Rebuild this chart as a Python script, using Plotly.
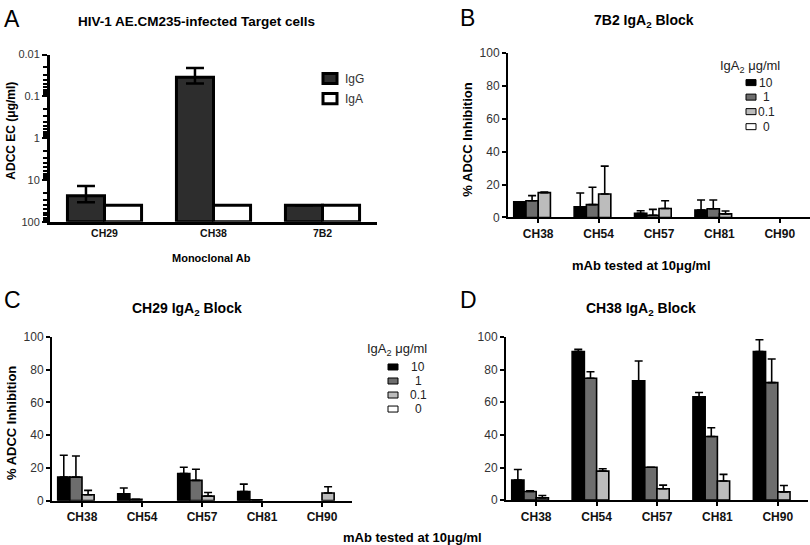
import plotly.graph_objects as go

W, H = 810, 545
FONT = "Arial, 'Liberation Sans', Helvetica, sans-serif"

# ---------------- data ----------------
# Panel A (ADCC EC, log scale, reversed)
a_categories = ["CH29", "CH38", "7B2"]
a_igg = [24, 0.035, 40]
a_igg_err = [10, 0.014, 0]
a_iga = [40, 40, 40]
a_series = ["IgG", "IgA"]
a_tickvals = [0.01, 0.1, 1, 10, 100]
a_ticktext = ["0.01", "0.1", "1", "10", "100"]
a_minor = [m * t for t in a_tickvals[:-1] for m in range(2, 10)]
a_base = 100

# Panels B-D (% ADCC inhibition)
mab = ["CH38", "CH54", "CH57", "CH81", "CH90"]
iga_levels = ["10", "1", "0.1", "0"]

b_10 = [9.6, 6.5, 2.5, 4.5, 0]
b_10_err = [0, 8.4, 1.6, 6.1, 0]
b_1 = [10.2, 7.8, 1.4, 5.3, 0]
b_1_err = [3.1, 10.6, 3.5, 5.3, 0]
b_01 = [15.1, 14.3, 5.5, 2.2, 0]
b_01_err = [0.4, 16.9, 4.7, 1.7, 0]
b_0 = [0, 0, 0, 0, 0]

c_10 = [14.4, 4.2, 16.6, 5.5, 0]
c_10_err = [13.3, 3.5, 3.8, 4.6, 0]
c_1 = [14.4, 0.8, 12.4, 0.5, 0]
c_1_err = [12.9, 0, 6.8, 0, 0]
c_01 = [3.6, 0, 2.8, 0, 4.7]
c_01_err = [2.7, 0, 2.2, 0, 3.8]
c_0 = [0, 0, 0, 0, 0]

d_10 = [12.3, 91.0, 73.2, 63.4, 91.0]
d_10_err = [6.5, 1.4, 12.1, 2.6, 7.3]
d_1 = [5.3, 74.7, 20.2, 39.0, 72.0]
d_1_err = [0.5, 4.0, 0, 5.4, 14.5]
d_01 = [1.4, 17.8, 7.0, 11.7, 5.1]
d_01_err = [1.5, 1.4, 2.2, 4.1, 3.9]
d_0 = [0, 0, 0, 0, 0]

pct_ticks = [0, 20, 40, 60, 80, 100]

# ---------------- styles ----------------
a_colors = ["#2d2d2d", "#ffffff"]
lvl_colors = ["#000000", "#6d6d6d", "#bcbcbc", "#ffffff"]

# vertical calibration of the photographed page
V_OFF, V_SCALE = 6.5, 0.973


def X(px):
    return px / W


def Y(py):
    fy = (py - V_OFF) / V_SCALE
    return (H - fy) / H


fig = go.Figure()

# Panel A bars (bars hang from 100 on a reversed log axis)
for name, vals, err, col, off in [
    (a_series[0], a_igg, a_igg_err, a_colors[0], -0.34),
    (a_series[1], a_iga, None, a_colors[1], 0.0),
]:
    fig.add_trace(go.Bar(
        x=a_categories, y=[v - a_base for v in vals], base=a_base,
        name=name, xaxis="x", yaxis="y",
        width=0.34, offset=off,
        marker=dict(color=col, line=dict(color="black", width=3)),
        error_y=(dict(type="data", array=err, symmetric=True, color="black",
                      thickness=2.5, width=9) if err else None),
        showlegend=False,
    ))

panel_data = [
    ("x2", "y2", [b_10, b_1, b_01, b_0], [b_10_err, b_1_err, b_01_err, None]),
    ("x3", "y3", [c_10, c_1, c_01, c_0], [c_10_err, c_1_err, c_01_err, None]),
    ("x4", "y4", [d_10, d_1, d_01, d_0], [d_10_err, d_1_err, d_01_err, None]),
]
for xa, ya, series, errs in panel_data:
    for lvl, vals, err, col in zip(iga_levels, series, errs, lvl_colors):
        fig.add_trace(go.Bar(
            x=mab, y=[v if v else None for v in vals], name=lvl,
            xaxis=xa, yaxis=ya,
            marker=dict(color=col, line=dict(color="black", width=1.6)),
            error_y=(dict(type="data", array=err, symmetric=False,
                          arrayminus=[0] * len(err), color="black",
                          thickness=1.6, width=4) if err else None),
            showlegend=False,
        ))

tickfont_b = dict(family=FONT, size=12, color="#111", weight="bold")
tickfont_r = dict(family=FONT, size=12, color="#333")

layout = dict(
    width=W, height=H, margin=dict(l=0, r=0, t=0, b=0),
    paper_bgcolor="white", plot_bgcolor="white",
    barmode="group", bargap=0.19, bargroupgap=0,
    font=dict(family=FONT, color="black"),
    showlegend=False,
    xaxis=dict(domain=[X(50), X(377)], anchor="y", showline=True, linewidth=3,
               linecolor="black", ticks="", showgrid=False, zeroline=False,
               tickfont=dict(family=FONT, size=10.5, color="#111", weight="bold")),
    yaxis=dict(domain=[Y(221), Y(54)], anchor="x", type="log", range=[2, -2],
               showline=True, linewidth=3, linecolor="black",
               tickmode="array", tickvals=a_tickvals, ticktext=a_ticktext,
               ticks="outside", ticklen=5, tickwidth=2, tickcolor="black",
               minor=dict(ticks="outside", ticklen=4, tickwidth=2,
                          tickcolor="black", tickmode="array",
                          tickvals=a_minor, showgrid=False),
               showgrid=False, zeroline=False,
               tickfont=dict(family=FONT, size=11, color="#333")),
)
pct_axes = {
    2: ([508, 810], [216.7, 52.3]),
    3: ([52, 352], [499.5, 336]),
    4: ([506, 808], [499, 336]),
}
for i, (xd, yd) in pct_axes.items():
    layout[f"xaxis{i}"] = dict(domain=[X(xd[0]), X(xd[1])], anchor=f"y{i}",
                               showline=True, linewidth=2, linecolor="black",
                               ticks="outside", ticklen=4, tickwidth=1.5,
                               tickcolor="black", showgrid=False, zeroline=False,
                               tickfont=tickfont_b)
    layout[f"yaxis{i}"] = dict(domain=[Y(yd[0]), Y(yd[1])], anchor=f"x{i}",
                               range=[0, 100], tickvals=pct_ticks,
                               showline=True, linewidth=2, linecolor="black",
                               ticks="outside", ticklen=4, tickwidth=1.5,
                               tickcolor="black", showgrid=False, zeroline=False,
                               tickfont=tickfont_r)
fig.update_layout(**layout)

ann = []
shapes = []


def text(x, y, s, size, bold=False, angle=0, xanchor="center", color="black"):
    ann.append(dict(x=X(x), y=Y(y), xref="paper", yref="paper", text=s,
                    showarrow=False, textangle=angle, xanchor=xanchor,
                    yanchor="middle",
                    font=dict(family=FONT, size=size, color=color,
                              weight="bold" if bold else "normal")))


# panel letters
text(2, 18, "A", 23, xanchor="left")
text(458, 17, "B", 23, xanchor="left")
text(2, 299, "C", 23, xanchor="left")
text(458, 299, "D", 23, xanchor="left")

# titles
text(196, 21, "HIV-1 AE.CM235-infected Target cells", 13.5, bold=True)
text(644, 20, "7B2 IgA<sub>2</sub> Block", 14, bold=True)
text(187, 308, "CH29 IgA<sub>2</sub> Block", 14, bold=True)
text(641, 308, "CH38 IgA<sub>2</sub> Block", 14, bold=True)

# axis titles
text(11, 130, "ADCC EC (μg/ml)", 12, bold=True, angle=-90)
text(211, 257, "Monoclonal Ab", 11, bold=True)
text(468, 139, "% ADCC Inhibition", 13, bold=True, angle=-90)
text(11, 422, "% ADCC Inhibition", 13, bold=True, angle=-90)
text(641, 265, "mAb tested at 10μg/ml", 13, bold=True)
text(412, 536, "mAb tested at 10μg/ml", 13, bold=True)

# legend A
for k, (nm, col) in enumerate(zip(a_series, a_colors)):
    yc = 78 + 20 * k
    shapes.append(dict(type="rect", xref="paper", yref="paper",
                       x0=X(323), x1=X(337), y0=Y(yc - 5), y1=Y(yc + 5),
                       fillcolor=col, line=dict(color="black", width=3)))
    text(343, yc, nm, 12, xanchor="left", color="#333")


# legends B and C
def level_legend(tx, ty, bx0, bx1, lx, rows):
    text(tx, ty, "IgA<sub>2</sub> μg/ml", 13, xanchor="left", color="#222")
    for lvl, col, yc in zip(iga_levels, lvl_colors, rows):
        shapes.append(dict(type="rect", xref="paper", yref="paper",
                           x0=X(bx0), x1=X(bx1), y0=Y(yc - 3), y1=Y(yc + 3),
                           fillcolor=col, line=dict(color="black", width=1)))
        text(lx, yc, lvl, 12, color="#222")


level_legend(718, 66, 746, 756, 766, [82, 96.5, 111, 126])
level_legend(365, 349, 388, 398, 418, [366, 380, 394, 408])

fig.update_layout(annotations=ann, shapes=shapes)
fig.write_html(
    "out.html",
    config={"displayModeBar": False},
    post_script=("document.body.style.margin='0';"
                 "document.body.style.padding='0';"
                 "document.documentElement.style.overflow='hidden';"),
)
